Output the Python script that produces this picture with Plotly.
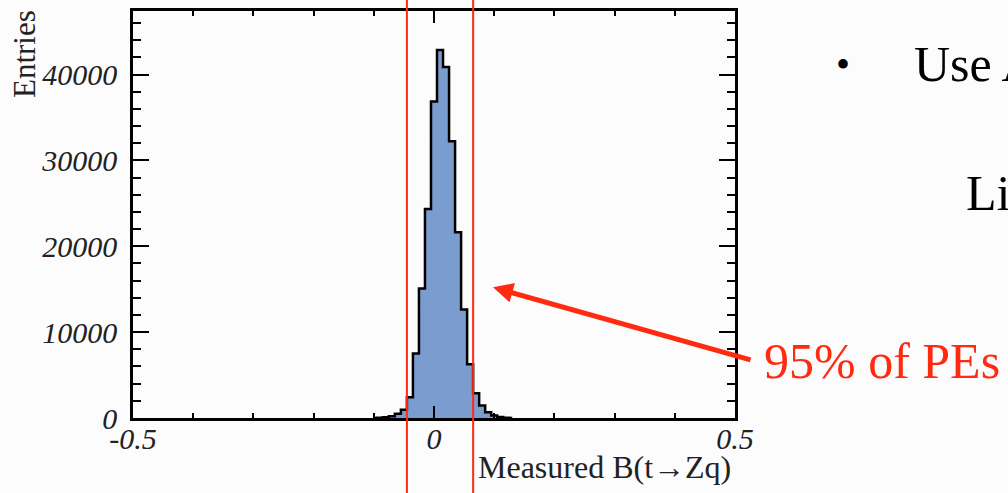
import plotly.graph_objects as go

# ---- data ----
bin_centers = [-0.10, -0.09, -0.08, -0.07, -0.06, -0.05, -0.04, -0.03, -0.02, -0.01,
               0.00, 0.01, 0.02, 0.03, 0.04, 0.05, 0.06, 0.07, 0.08, 0.09,
               0.10, 0.11, 0.12, 0.13]
entries = [0, 40, 100, 210, 490, 950, 2410, 7500, 15070, 24330,
           36860, 42850, 40880, 32230, 21620, 12640, 6270, 2870, 1450, 670,
           290, 110, 40, 0]
interval_95 = [-0.045, 0.065]          # red vertical lines
x_tickvals = [-0.5, 0.0, 0.5]
x_ticktext = ["-0.5", "0", "0.5"]
y_tickvals = [0, 10000, 20000, 30000, 40000]
y_ticktext = ["0", "10000", "20000", "30000", "40000"]
arrow_tip = (0.098, 15220)

W, H = 1008, 493
L, R, T, B = 133, 273, 8, 75
PW, PH = W - L - R, H - T - B


def px(xp):
    return (xp - L) / PW


def py(yp):
    return (H - B - yp) / PH


SERIF = "Liberation Serif"
RED = "#ff2a10"

fig = go.Figure()
fig.add_trace(go.Scatter(
    x=bin_centers, y=entries, mode="lines",
    line=dict(shape="hvh", color="black", width=2.5),
    fill="tozeroy", fillcolor="#7b9ccf", hoverinfo="skip", showlegend=False,
))

for v in interval_95:
    fig.add_shape(type="line", xref="x", yref="paper", x0=v, x1=v,
                  y0=py(H + 5), y1=py(-5), line=dict(color=RED, width=2),
                  layer="above")

axis_common = dict(showline=True, linecolor="black", linewidth=2.5,
                   mirror="allticks", ticks="inside", tickcolor="black",
                   tickwidth=2, showgrid=False, zeroline=False,
                   tickfont=dict(family=SERIF, size=30, color="#222", style="italic"))

fig.update_xaxes(range=[-0.5, 0.5], tickmode="array", tickvals=x_tickvals,
                 ticktext=x_ticktext, ticklen=12, ticklabelstandoff=-8,
                 minor=dict(tickmode="linear", tick0=0, dtick=0.1, ticklen=5,
                            ticks="inside", tickcolor="black", tickwidth=2,
                            showgrid=False),
                 **axis_common)
fig.update_yaxes(range=[0, 47400], tickmode="array", tickvals=y_tickvals,
                 ticktext=y_ticktext, ticklen=16, ticklabelstandoff=7,
                 minor=dict(tickmode="linear", tick0=0, dtick=2000, ticklen=8,
                            ticks="inside", tickcolor="black", tickwidth=2,
                            showgrid=False),
                 **axis_common)

ann = []
# y-axis title (ROOT style, top aligned)
ann.append(dict(text="Entries", xref="paper", yref="paper", x=px(24), y=py(5),
                xanchor="center", yanchor="top", textangle=-90, showarrow=False,
                font=dict(family=SERIF, size=31, color="#222")))
# x-axis title (right aligned)
ann.append(dict(text="Measured B(t\u2192Zq)", xref="paper", yref="paper",
                x=px(733), y=py(467), xanchor="right", yanchor="middle",
                showarrow=False, font=dict(family=SERIF, size=32, color="#222")))
# red arrow
ann.append(dict(text="", x=arrow_tip[0], y=arrow_tip[1], xref="x", yref="y",
                ax=259, ay=73, axref="pixel", ayref="pixel", showarrow=True,
                arrowhead=2, arrowsize=0.8, arrowwidth=5, arrowcolor=RED,
                standoff=0))
ann.append(dict(text="95% of PEs", xref="paper", yref="paper", x=px(762),
                y=py(361), xanchor="left", yanchor="middle", showarrow=False,
                font=dict(family=SERIF, size=50, color=RED)))
# slide text (cut at the right edge)
ann.append(dict(text="\u2022", xref="paper", yref="paper", x=px(843), y=py(62),
                xanchor="center", yanchor="middle", showarrow=False,
                font=dict(family=SERIF, size=40, color="black")))
ann.append(dict(text="Use A", xref="paper", yref="paper", x=px(912), y=py(61),
                xanchor="left", yanchor="middle", showarrow=False,
                font=dict(family=SERIF, size=50, color="black")))
ann.append(dict(text="Li", xref="paper", yref="paper", x=px(964), y=py(191),
                xanchor="left", yanchor="middle", showarrow=False,
                font=dict(family=SERIF, size=50, color="black")))

fig.update_layout(
    width=W, height=H, margin=dict(l=L, r=R, t=T, b=B, pad=0),
    paper_bgcolor="#fcfcfc", plot_bgcolor="#fcfcfc",
    annotations=ann, showlegend=False,
)

fig.write_html(
    "out.html",
    config={"displayModeBar": False},
    post_script="document.body.style.margin='0px';"
                "document.body.style.overflow='hidden';",
)
